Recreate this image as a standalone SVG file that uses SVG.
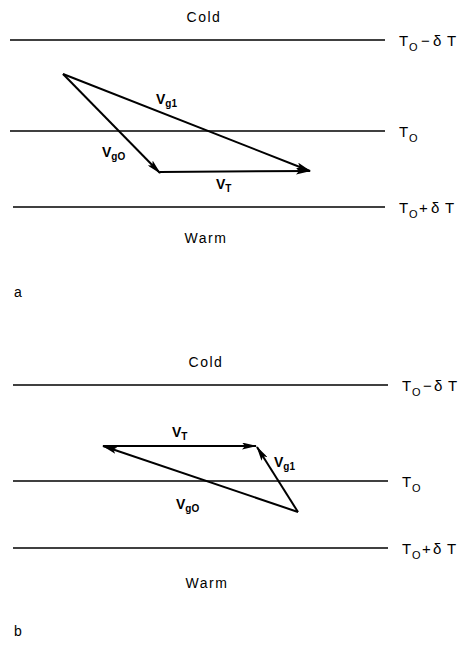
<svg xmlns="http://www.w3.org/2000/svg" width="474" height="651" viewBox="0 0 474 651">
<defs>
<marker id="ah" viewBox="0 0 15 7" refX="14" refY="3.5" markerWidth="15" markerHeight="7" markerUnits="userSpaceOnUse" orient="auto">
<path d="M0,0 L15,3.5 L0,7 L3,3.5 Z" fill="#000"/>
</marker>
</defs>
<style>
.iso{stroke:#000;stroke-width:1.4;fill:none}
.vec{stroke:#000;stroke-width:2;fill:none}
.t{font-family:"Liberation Sans",Arial,sans-serif;font-size:14px;letter-spacing:1.5px;fill:#000}
.r{font-family:"Liberation Sans",Arial,sans-serif;font-size:15px;fill:#000}
.v{font-family:"Liberation Sans",Arial,sans-serif;font-size:14px;font-weight:bold;fill:#000}
.s{font-size:11px}
.vs{font-size:10px}
</style>
<rect width="474" height="651" fill="#fff"/>
<g id="panel-a">
<g id="a-isotherms">
<line class="iso" x1="10" y1="40" x2="385" y2="40"/>
<line class="iso" x1="10" y1="131" x2="385" y2="131"/>
<line class="iso" x1="13" y1="207" x2="385" y2="207"/>
</g>
<g id="a-texts">
<text class="t" x="204" y="22" text-anchor="middle">Cold</text>
<text class="t" x="206" y="243" text-anchor="middle">Warm</text>
<text class="t" x="14" y="297">a</text>
<text class="r" x="399" y="46">T<tspan class="s" x="409" dy="5">O</tspan><tspan x="421" dy="-5">−</tspan><tspan x="433">δ</tspan><tspan x="447">T</tspan></text>
<text class="r" x="399" y="137">T<tspan class="s" x="409" dy="5">O</tspan></text>
<text class="r" x="399" y="213">T<tspan class="s" x="409" dy="5">O</tspan><tspan x="419" dy="-5">+</tspan><tspan x="431">δ</tspan><tspan x="445">T</tspan></text>
</g>
<g id="a-vectors">
<line class="vec" x1="63" y1="74" x2="160" y2="173" marker-end="url(#ah)"/>
<line class="vec" x1="160" y1="172" x2="310" y2="171" marker-end="url(#ah)"/>
<line class="vec" x1="63" y1="74" x2="310" y2="171" marker-end="url(#ah)"/>
</g>
<g id="a-labels">
<text class="v" x="156" y="104">V<tspan class="vs" dy="3">g1</tspan></text>
<text class="v" x="102" y="157">V<tspan class="vs" dy="3">gO</tspan></text>
<text class="v" x="216" y="189">V<tspan class="vs" dy="3">T</tspan></text>
</g>
</g>
<g id="panel-b">
<g id="b-isotherms">
<line class="iso" x1="13" y1="385" x2="388" y2="385"/>
<line class="iso" x1="13" y1="481" x2="388" y2="481"/>
<line class="iso" x1="13" y1="548" x2="388" y2="548"/>
</g>
<g id="b-texts">
<text class="t" x="206" y="367" text-anchor="middle">Cold</text>
<text class="t" x="207" y="588" text-anchor="middle">Warm</text>
<text class="t" x="14" y="636">b</text>
<text class="r" x="402" y="391">T<tspan class="s" x="412" dy="5">O</tspan><tspan x="423" dy="-5">−</tspan><tspan x="434">δ</tspan><tspan x="448">T</tspan></text>
<text class="r" x="402" y="487">T<tspan class="s" x="412" dy="5">O</tspan></text>
<text class="r" x="402" y="554">T<tspan class="s" x="412" dy="5">O</tspan><tspan x="422" dy="-5">+</tspan><tspan x="433">δ</tspan><tspan x="447">T</tspan></text>
</g>
<g id="b-vectors">
<line class="vec" x1="103" y1="446" x2="256" y2="446" marker-end="url(#ah)"/>
<line class="vec" x1="298" y1="512" x2="257" y2="447" marker-end="url(#ah)"/>
<line class="vec" x1="298" y1="512" x2="103" y2="446" marker-end="url(#ah)"/>
</g>
<g id="b-labels">
<text class="v" x="172" y="437">V<tspan class="vs" dy="3">T</tspan></text>
<text class="v" x="274" y="467">V<tspan class="vs" dy="3">g1</tspan></text>
<text class="v" x="176" y="509">V<tspan class="vs" dy="3">gO</tspan></text>
</g>
</g>
</svg>
